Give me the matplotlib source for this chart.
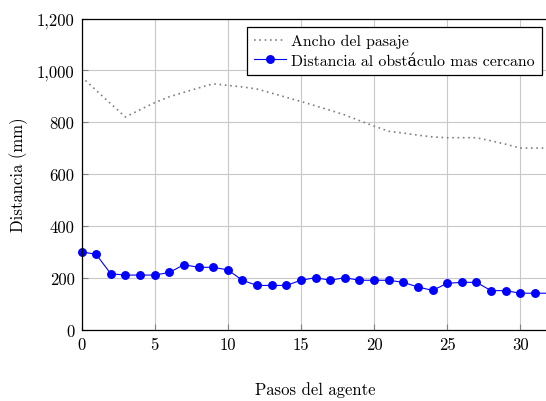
import matplotlib
matplotlib.use("Agg")
import matplotlib.pyplot as plt

plt.rcParams['font.family'] = ['cmr10', 'DejaVu Serif']
plt.rcParams['axes.formatter.use_mathtext'] = True

steps = list(range(33))
ancho = [975, 923, 871, 820, 848, 875, 898, 915, 932, 948, 942, 936, 928,
         912, 896, 880, 863, 846, 828, 806, 785, 765, 758, 750, 743, 740,
         740, 740, 728, 715, 700, 700, 700]
distancia = [300, 290, 215, 210, 210, 210, 220, 250, 240, 240, 230, 190, 170,
             170, 170, 190, 200, 190, 200, 190, 190, 190, 182, 164, 151, 178,
             182, 182, 150, 150, 140, 140, 140]
xticks = [0, 5, 10, 15, 20, 25, 30]
yticks = [0, 200, 400, 600, 800, 1000, 1200]
ytick_labels = ['0', '200', '400', '600', '800', '1,000', '1,200']

fig = plt.figure(figsize=(5.46, 4.02), dpi=100)
ax = fig.add_axes([81.5/546, (402-330.5)/402, 468/546, 311/402])

ax.plot(steps, ancho, linestyle=(0, (1, 2.2)), color='#808080', linewidth=1.2,
        label='Ancho del pasaje')
ax.plot(steps, distancia, color='blue', linewidth=0.8, marker='o', markersize=5.4,
        label='Distancia al obstáculo mas cercano', clip_on=False)

ax.set_xlim(0, 32)
ax.set_ylim(0, 1200)
ax.set_xticks(xticks)
ax.set_xticklabels([str(t) for t in xticks])
ax.set_yticks(yticks)
ax.set_yticklabels(ytick_labels)
ax.grid(True, color='#c8c8c8', linewidth=0.8)
ax.set_axisbelow(True)
ax.tick_params(direction='in', length=4, color='#808080', labelsize=12, pad=5)
for s in ax.spines.values():
    s.set_linewidth(0.9)

ax.set_xlabel('Pasos del agente', fontsize=12, labelpad=21)
ax.set_ylabel('Distancia (mm)', fontsize=12, labelpad=6)

leg = ax.legend(loc='upper right', bbox_to_anchor=(1 - 8/468, 1 - 8.5/311),
                borderaxespad=0,
                fontsize=11.4, frameon=True, fancybox=False, edgecolor='black',
                framealpha=1, borderpad=0.45, labelspacing=0.35, handlelength=2.0,
                handletextpad=0.3)
leg.get_frame().set_linewidth(0.9)

fig.savefig('out.png', dpi=100)
